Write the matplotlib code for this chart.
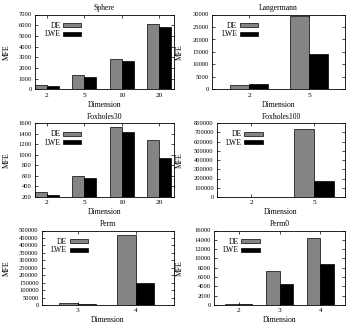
import matplotlib
matplotlib.use("Agg")
import matplotlib.pyplot as plt
import numpy as np

plt.rcParams["font.family"] = ["Liberation Serif", "DejaVu Serif"]

W, H = 351, 327

titles = ["Sphere", "Langermann", "Foxholes30", "Foxholes100", "Perm", "Perm0"]
dims = [
    ["2", "5", "10", "20"],
    ["2", "5"],
    ["2", "5", "10", "20"],
    ["2", "5"],
    ["3", "4"],
    ["2", "3", "4"],
]
de_vals = [
    [450, 1330, 2850, 6150],
    [1800, 29300],
    [290, 600, 1520, 1280],
    [5000, 730000],
    [12000, 470000],
    [300, 7400, 14300],
]
lwe_vals = [
    [280, 1130, 2620, 5850],
    [2000, 14100],
    [240, 560, 1430, 940],
    [2500, 175000],
    [8000, 145000],
    [300, 4500, 8700],
]
y_ranges = [
    (0, 7000, 1000),
    (0, 30000, 5000),
    (200, 1600, 200),
    (0, 800000, 100000),
    (0, 500000, 50000),
    (0, 16000, 2000),
]

# panel boxes in pixels: left, top, right, bottom
boxes = [
    (35, 14.5, 174, 89.5),
    (212, 14.5, 345, 89.5),
    (35, 123, 174, 197),
    (217, 123, 345, 197),
    (42, 230.5, 174, 305),
    (214, 230.5, 345, 305),
]
xlims = [(-0.31, 3.4), (-0.62, 1.6), (-0.31, 3.4), (-0.54, 1.49), (-0.62, 1.66), (-0.6, 2.6)]
ylabel_x = [11, 184, 11, 184, 11, 184]

fig = plt.figure(figsize=(W / 100, H / 100), dpi=100)
gray = "#848484"
bw = 0.32
fs = 5.5

for i in range(6):
    l, t, r, b = boxes[i]
    ax = fig.add_axes([l / W, 1 - b / H, (r - l) / W, (b - t) / H])
    x = np.arange(len(dims[i]))
    ax.bar(x - bw / 2, de_vals[i], bw, color=gray, edgecolor="black", linewidth=0.5, label="DE")
    ax.bar(x + bw / 2, lwe_vals[i], bw, color="black", edgecolor="black", linewidth=0.5, label="LWE")
    y0, y1, step = y_ranges[i]
    ax.set_ylim(y0, y1)
    ax.set_yticks(np.arange(y0, y1 + 1, step))
    ax.set_xlim(*xlims[i])
    ax.set_xticks(x)
    ax.set_xticklabels(dims[i])
    ax.tick_params(direction="in", length=2, width=0.5, pad=2.5, top=True, right=True)
    ax.tick_params(axis="x", labelsize=5.3)
    ax.tick_params(axis="y", labelsize=4.7)
    for s in ax.spines.values():
        s.set_linewidth(0.6)
    ax.set_title(titles[i], fontsize=fs, pad=3)
    ax.set_xlabel("Dimension", fontsize=fs, labelpad=2)
    ax.set_ylabel("MFE", fontsize=fs)
    ax.yaxis.set_label_coords((ylabel_x[i] - l) / (r - l), 0.5)
    ax.legend(loc="upper left", bbox_to_anchor=(0.07, 0.9), frameon=False,
              fontsize=fs, markerfirst=False, handlelength=2.4,
              handleheight=0.45, labelspacing=0.05, borderpad=0,
              borderaxespad=0, handletextpad=0.3)

fig.savefig("out.png", dpi=100)
